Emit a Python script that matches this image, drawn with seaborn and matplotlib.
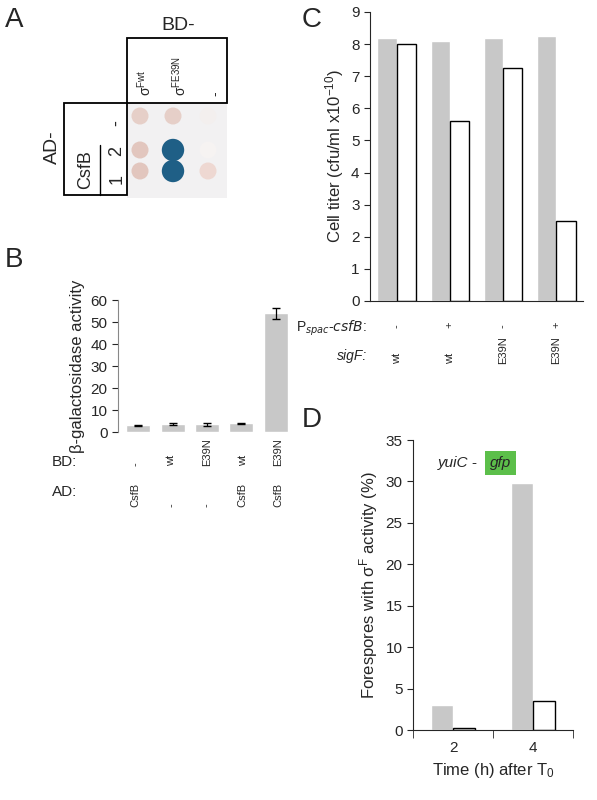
import matplotlib
matplotlib.use("Agg")
import matplotlib.pyplot as plt
import seaborn as sns
import numpy as np
import pandas as pd
from matplotlib.patches import Rectangle

sns.set_style("white")
plt.rcParams['font.family'] = ['Liberation Sans', 'DejaVu Sans']
plt.rcParams['mathtext.default'] = 'regular'

# Panel A data
a_cols = ["σ$^{Fwt}$", "σ$^{FE39N}$", "-"]
a_rows = ["-", "2", "1"]
a_spot_colors = [["#e6cfc8", "#e6cfc8", "#f3efee"],
                 ["#e2c6be", "#1f5f86", "#f6f3f2"],
                 ["#e2c6be", "#1f5f86", "#eed8d2"]]
# Panel B data
b_bd = ["-", "wt", "E39N", "wt", "E39N"]
b_ad = ["CsfB", "-", "-", "CsfB", "CsfB"]
b_vals = [3.0, 3.8, 3.5, 4.0, 54.0]
b_err = [0.3, 0.5, 0.7, 0.3, 2.5]
# Panel C data
c_pspac = ["-", "+", "-", "+"]
c_sigf = ["wt", "wt", "E39N", "E39N"]
c_gray = [8.2, 8.1, 8.2, 8.25]
c_white = [8.0, 5.6, 7.25, 2.5]
# Panel D data
d_time = ["2", "4"]
d_gray = [3.0, 29.8]
d_white = [0.3, 3.5]

W, H = 597, 800
fig = plt.figure(figsize=(W/100, H/100), dpi=100)

def ax_px(x0, y0, x1, y1):
    return fig.add_axes([x0/W, 1-y1/H, (x1-x0)/W, (y1-y0)/H])

def ftext(x, y, s, **kw):
    fig.text(x/W, 1-y/H, s, **kw)

# ---------- Panel A ----------
axA = ax_px(0, 0, 300, 240)
axA.set_xlim(0, 300); axA.set_ylim(240, 0); axA.axis("off")
axA.text(5, 20, "A", fontsize=20, va="center")
axA.text(178, 25, "BD-", fontsize=14, ha="center", va="center")
axA.add_patch(Rectangle((127, 103), 100, 95, fc="#f2f1f2", ec="none", zorder=0))
axA.add_patch(Rectangle((127, 38), 100, 65, fill=False, ec="k", lw=1.3))
axA.add_patch(Rectangle((64, 103), 63, 92, fill=False, ec="k", lw=1.3))
axA.plot([100, 100], [145, 195], color="k", lw=1)
for i, c in enumerate(a_cols):
    axA.text(145 + 35*i, 96, c, rotation=90, fontsize=10, ha="center", va="bottom")
for j, r in enumerate(a_rows):
    axA.text(117, 123 + 28*j, r, rotation=90, fontsize=13, ha="center", va="center")
axA.text(86, 170, "CsfB", rotation=90, fontsize=13, ha="center", va="center")
axA.text(52, 147, "AD-", rotation=90, fontsize=14, ha="center", va="center")
xs = [140, 173, 208]; ys = [116, 150, 171]
for j in range(3):
    axA.scatter(xs, [ys[j]]*3, s=[150, 260 if j else 150, 150], c=a_spot_colors[j],
                edgecolors="none", zorder=2)

# ---------- Panel B ----------
ftext(5, 260, "B", fontsize=20, va="center")
axB = ax_px(118, 300, 296, 432)
dfB = pd.DataFrame({"x": range(5), "v": b_vals})
sns.barplot(data=dfB, x="x", y="v", color="#c8c8c8", width=0.7, ax=axB, saturation=1)
axB.errorbar(range(5), b_vals, yerr=b_err, fmt="none", ecolor="k", capsize=3, lw=0.9)
axB.set_ylim(0, 60); axB.set_yticks(range(0, 61, 10))
axB.set_xticks([]); axB.set_xlabel(""); axB.set_ylabel("β-galactosidase activity", fontsize=12)
sns.despine(ax=axB, top=True, right=True, bottom=True)
axB.spines["left"].set_color("#888"); axB.tick_params(axis="y", labelsize=11, left=True, length=4)
ftext(52, 462, "BD:", fontsize=11, va="center")
ftext(52, 492, "AD:", fontsize=11, va="center")
for i in range(5):
    xp = 118 + (i + 0.5) * 178/5
    ftext(xp, 466, b_bd[i], rotation=90, fontsize=8, ha="center", va="bottom")
    ftext(xp, 507, b_ad[i], rotation=90, fontsize=8, ha="center", va="bottom")

# ---------- Panel C ----------
ftext(302, 20, "C", fontsize=20, va="center")
axC = ax_px(370, 12, 583, 301)
xc = np.arange(4)
axC.bar(xc - 0.18, c_gray, width=0.36, color="#c8c8c8")
axC.bar(xc + 0.18, c_white, width=0.36, color="white", edgecolor="k", lw=1)
axC.set_ylim(0, 9); axC.set_xlim(-0.5, 3.5)
axC.set_yticks(range(10)); axC.set_xticks([])
axC.set_ylabel("Cell titer (cfu/ml x10$^{-10}$)", fontsize=12)
sns.despine(ax=axC, top=True, right=True)
axC.tick_params(axis="y", labelsize=11, left=True, length=4)
ftext(367, 328, "P$_{\\it{spac}}$-$\\it{csfB}$:", fontsize=10, ha="right", va="center")
ftext(367, 356, "sigF:", fontsize=10, ha="right", va="center", style="italic")
for i in range(4):
    xp = 370 + (i + 0.5) * 213/4
    ftext(xp, 328, c_pspac[i], rotation=90, fontsize=8, ha="center", va="bottom")
    ftext(xp, 364, c_sigf[i], rotation=90, fontsize=8, ha="center", va="bottom")

# ---------- Panel D ----------
ftext(302, 420, "D", fontsize=20, va="center")
axD = ax_px(413, 440, 573, 730)
xd = np.arange(2)
axD.bar(xd - 0.14, d_gray, width=0.28, color="#c8c8c8")
axD.bar(xd + 0.14, d_white, width=0.28, color="white", edgecolor="k", lw=1)
axD.set_xlim(-0.5, 1.5); axD.set_ylim(0, 35)
axD.set_yticks(range(0, 36, 5)); axD.set_xticks(xd); axD.set_xticklabels(d_time)
axD.set_xticks([-0.5, 0.5, 1.5], minor=True)
axD.tick_params(axis="x", which="major", length=0, labelsize=11, pad=8)
axD.tick_params(axis="x", which="minor", length=6, bottom=True, direction="out")
axD.tick_params(axis="y", labelsize=11, left=True, length=4)
axD.set_xlabel("Time (h) after T$_0$", fontsize=12)
axD.set_ylabel("Forespores with σ$^F$ activity (%)", fontsize=12)
sns.despine(ax=axD, top=True, right=True)
ftext(438, 463, "yuiC -", fontsize=11, style="italic", va="center")
ftext(490, 463, "gfp", fontsize=11, style="italic", va="center",
      bbox=dict(boxstyle="square,pad=0.3", fc="#5cbf4a", ec="none"))

fig.savefig("out.png", dpi=100)
